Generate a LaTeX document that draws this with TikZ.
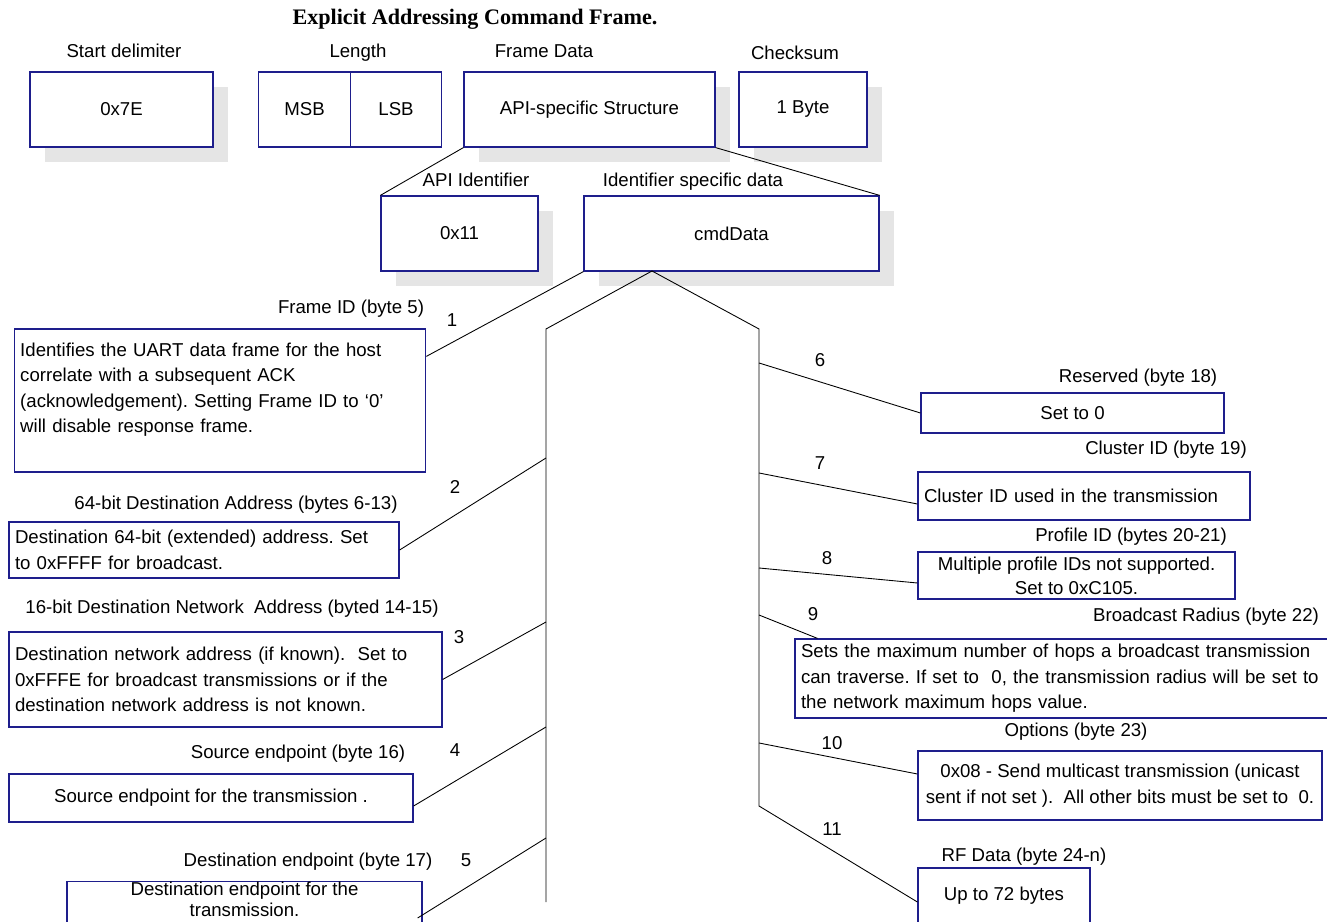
\documentclass[tikz,border=0pt]{standalone}
\usepackage{fontspec}
\setmainfont{Liberation Sans}
\newfontfamily\titlefont{Liberation Serif}
\usepackage{tikz}
\usetikzlibrary{shadows}
\definecolor{boxblue}{RGB}{30,30,140}

\begin{document}
\frenchspacing
\begin{tikzpicture}[
			font=\fontsize{10.6}{14.5}\selectfont,
			lbl/.style={inner sep=1pt, text height=1.8ex, text depth=0.4ex},
			field/.style={draw=boxblue, line width=0.7pt, fill=white, minimum height=1.5cm, align=center},
			shadowbox/.style={field, drop shadow={shadow xshift=0.3cm, shadow yshift=-0.3cm, fill=black!10, opacity=1}},
			infobox/.style={draw=boxblue, line width=0.7pt, fill=white, inner xsep=0.12cm, inner ysep=0pt},
			link/.style={line width=0.5pt}
		]
		\useasboundingbox (0,0) rectangle (26.54,18.42);
		\clip (0,0) rectangle (26.54,18.42);

		\node[font=\titlefont\bfseries\fontsize{12.6}{15}\selectfont] (title) at (9.5,18.04) {Explicit Addressing Command Frame.};

		\node[lbl] (startlbl) at (2.48,17.40) {Start delimiter};
		\node[lbl] (lenlbl) at (7.16,17.40) {Length};
		\node[lbl] (datalbl) at (10.88,17.40) {Frame Data};
		\node[lbl] (ckslbl) at (15.9,17.36) {Checksum};

		\node[shadowbox, minimum width=3.66cm] (start) at (2.43,16.23) {0x7E};
		\node[field, minimum width=1.83cm] (msb) at (6.09,16.23) {MSB};
		\node[field, minimum width=1.83cm] (lsb) at (7.92,16.23) {LSB};
		\node[shadowbox, minimum width=5.02cm] (api) at (11.79,16.23) {API-specific Structure};
		\node[shadowbox, minimum width=2.56cm] (cks) at (16.06,16.23) {1 Byte};

		\node[lbl] (apiidlbl) at (9.52,14.82) {API Identifier};
		\node[lbl] (cmdlbl) at (13.86,14.82) {Identifier specific data};

		\node[shadowbox, minimum width=3.14cm] (apiid) at (9.19,13.75) {0x11};
		\node[shadowbox, minimum width=5.9cm] (cmd) at (14.63,13.75) {cmdData};

		\draw[link] (api.south west) -- (apiid.north west);
		\draw[link] (api.south east) -- (cmd.north east);

		% left hand fields
		\node[lbl] (frameidlbl) at (7.02,12.28) {Frame ID (byte 5)};
		\node[infobox, text width=7.99cm, minimum height=2.86cm, align=left] (frameid) at (4.4,10.41) {Identifies the UART data frame for the host\\ correlate with a subsequent ACK\\ (acknowledgement). Setting Frame ID to `0'\\ will disable response frame.\\ \mbox{}};

		\node[lbl] (dest64lbl) at (4.72,8.36) {64-bit Destination Address (bytes 6-13)};
		\node[infobox, text width=7.56cm, minimum height=1.12cm, align=left] (dest64) at (4.08,7.42) {Destination 64-bit (extended) address. Set\\ to 0xFFFF for broadcast.};

		\node[lbl] (netaddrlbl) at (4.64,6.28) {16-bit Destination Network\ \ Address (byted 14-15)};
		\node[infobox, text width=8.42cm, minimum height=1.9cm, align=left] (netaddr) at (4.51,4.83) {Destination network address (if known).\ \ Set to\\ 0xFFFE for broadcast transmissions or if the\\ destination network address is not known.};

		\node[lbl] (srceplbl) at (5.96,3.38) {Source endpoint (byte 16)};
		\node[infobox, minimum width=8.08cm, minimum height=0.96cm, align=center] (srcep) at (4.22,2.46) {Source endpoint for the transmission .};

		\node[lbl] (dsteplbl) at (6.16,1.22) {Destination endpoint (byte 17)};
		\node[infobox, minimum width=7.1cm, text depth=0.4cm, align=center, anchor=north, font=\fontsize{10.6}{12}\selectfont] (dstep) at (4.89,0.8) {Destination endpoint for the\\ transmission.};

		\node[lbl] (num1) at (9.04,12.02) {1};
		\node[lbl] (num2) at (9.1,8.68) {2};
		\node[lbl] (num3) at (9.18,5.68) {3};
		\node[lbl] (num4) at (9.1,3.42) {4};
		\node[lbl] (num5) at (9.32,1.22) {5};

		% right hand fields
		\node[lbl] (reservedlbl) at (22.76,10.9) {Reserved (byte 18)};
		\node[infobox, minimum width=6.06cm, minimum height=0.8cm, align=center] (reserved) at (21.45,10.16) {Set to 0};

		\node[lbl] (clusterlbl) at (23.32,9.46) {Cluster ID (byte 19)};
		\node[infobox, text width=6.4cm, minimum height=0.96cm, align=left] (cluster) at (21.68,8.5) {Cluster ID used in the transmission};

		\node[lbl] (profilelbl) at (22.62,7.72) {Profile ID (bytes 20-21)};
		\node[infobox, minimum width=6.34cm, minimum height=0.94cm, align=center, font=\fontsize{10.6}{13.5}\selectfont] (profile) at (21.53,6.91) {Multiple profile IDs not supported.\\ Set to 0xC105.};

		\node[lbl] (radiuslbl) at (24.12,6.12) {Broadcast Radius (byte 22)};
		\node[infobox, text width=10.96cm, minimum height=1.58cm, align=left] (radius) at (21.5,4.85) {Sets the maximum number of hops a broadcast transmission\\ can traverse. If set to\ \ 0, the transmission radius will be set to\\ the network maximum hops value.};

		\node[lbl] (optionslbl) at (21.52,3.82) {Options (byte 23)};
		\node[infobox, minimum width=8.08cm, minimum height=1.38cm, align=center] (options) at (22.4,2.71) {0x08 - Send multicast transmission (unicast\\ sent if not set ).\ \ All other bits must be set to\ \ 0.};

		\node[lbl] (rflbl) at (20.48,1.32) {RF Data (byte 24-n)};
		\node[infobox, minimum width=3.44cm, minimum height=1.12cm, align=center] (rf) at (20.08,0.5) {Up to 72 bytes};

		\node[lbl] (num6) at (16.4,11.22) {6};
		\node[lbl] (num7) at (16.4,9.16) {7};
		\node[lbl] (num8) at (16.54,7.26) {8};
		\node[lbl] (num9) at (16.26,6.14) {9};
		\node[lbl] (num10) at (16.64,3.56) {10};
		\node[lbl] (num11) at (16.64,1.84) {11};

		% branching lines under cmdData
		\coordinate (apex) at (13.04,13.0);
		\coordinate (ltop) at (10.92,11.84);
		\coordinate (lbot) at (10.92,0.38);
		\coordinate (rtop) at (15.18,11.84);
		\coordinate (rbot) at (15.18,2.30);
		\coordinate (l2) at (10.92,9.26);
		\coordinate (l3) at (10.92,5.98);
		\coordinate (l4) at (10.92,3.88);
		\coordinate (l5) at (10.92,1.66);
		\coordinate (r6) at (15.18,11.16);
		\coordinate (r7) at (15.18,8.96);
		\coordinate (r8) at (15.18,7.06);
		\coordinate (r9) at (15.18,6.12);
		\coordinate (r10) at (15.18,3.56);

		\draw[link] (cmd.south west) -- ([yshift=-0.56cm]frameid.north east);
		\draw[link] (lbot) -- (ltop) -- (apex) -- (rtop) -- (rbot) -- ([yshift=-0.12cm]rf.west);
		\draw[link] (l2) -- (dest64.east);
		\draw[link] (l3) -- (netaddr.east);
		\draw[link] (l4) -- ([yshift=-0.16cm]srcep.east);
		\draw[link] (l5) -- ([xshift=-0.1cm,yshift=-0.74cm]dstep.north east);
		\draw[link] (r6) -- (reserved.west);
		\draw[link] (r7) -- ([yshift=-0.16cm]cluster.west);
		\draw[link] (r8) -- ([yshift=-0.15cm]profile.west);
		\draw[link] (r9) -- ([xshift=0.46cm]radius.north west);
		\draw[link] (r10) -- ([yshift=0.23cm]options.west);
	\end{tikzpicture}
\end{document}
